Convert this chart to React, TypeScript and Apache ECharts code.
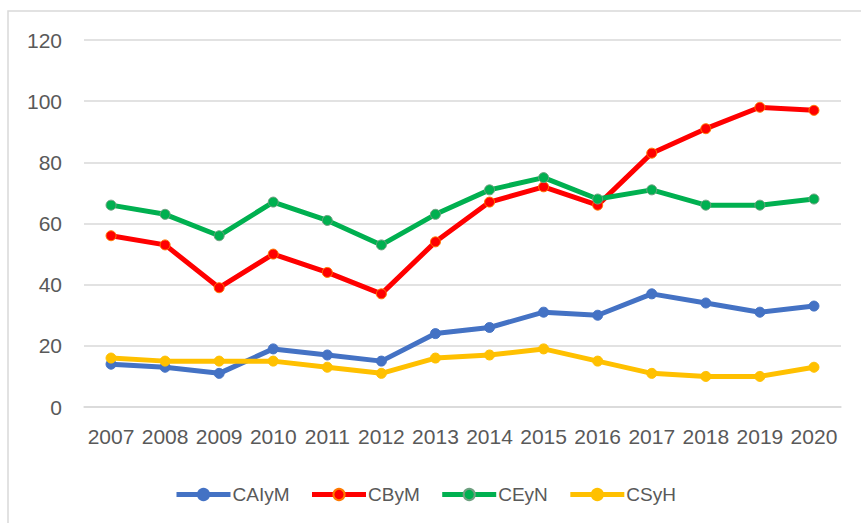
import React, { useEffect, useRef } from "react";
import * as echarts from "echarts";

const years = ["2007", "2008", "2009", "2010", "2011", "2012", "2013", "2014", "2015", "2016", "2017", "2018", "2019", "2020"];
const caiym = [14, 13, 11, 19, 17, 15, 24, 26, 31, 30, 37, 34, 31, 33];
const cbym = [56, 53, 39, 50, 44, 37, 54, 67, 72, 66, 83, 91, 98, 97];
const ceyn = [66, 63, 56, 67, 61, 53, 63, 71, 75, 68, 71, 66, 66, 68];
const csyh = [16, 15, 15, 15, 13, 11, 16, 17, 19, 15, 11, 10, 10, 13];

const seriesNames = ["CAIyM", "CByM", "CEyN", "CSyH"];
const seriesColors = ["#4472C4", "#FF0000", "#00B050", "#FFC000"];
const borderColors = ["#4472C4", "#FF7A00", "#6FA080", "#FFC000"];

export default function App() {
  const ref = useRef<HTMLDivElement>(null);
  useEffect(() => {
    if (!ref.current) return;
    const chart = echarts.init(ref.current, null, { renderer: "svg" });
    const data = [caiym, cbym, ceyn, csyh];
    const font = "'Liberation Sans', Arial, sans-serif";
    chart.setOption({
      animation: false,
      backgroundColor: "#ffffff",
      graphic: [
        {
          type: "rect",
          shape: { x: 8, y: 11, width: 900, height: 600 },
          style: { fill: "none", stroke: "#d9d9d9", lineWidth: 1.5 },
          silent: true,
          z: -10,
        },
      ],
      grid: { left: 84, right: 20, top: 40, bottom: 116, containLabel: false },
      legend: {
        left: 169,
        top: 480,
        itemWidth: 54,
        itemHeight: 14,
        itemGap: 20,
        lineStyle: { width: 5 },
        textStyle: { color: "#595959", fontSize: 19, fontFamily: font, padding: [0, 0, 0, -3] },
        data: seriesNames,
      },
      xAxis: {
        type: "category",
        data: years,
        boundaryGap: true,
        axisLine: { show: true, lineStyle: { color: "#d9d9d9", width: 1.5 } },
        axisTick: { show: false },
        axisLabel: { color: "#595959", fontSize: 21, fontFamily: font, margin: 19, interval: 0 },
      },
      yAxis: {
        type: "value",
        min: 0,
        max: 120,
        interval: 20,
        axisLine: { show: false },
        axisTick: { show: false },
        splitLine: { lineStyle: { color: "#d9d9d9", width: 1.5 } },
        axisLabel: { color: "#595959", fontSize: 21, fontFamily: font, margin: 22 },
      },
      series: seriesNames.map((name, i) => ({
        name,
        type: "line",
        data: data[i],
        symbol: "circle",
        symbolSize: 10,
        lineStyle: { color: seriesColors[i], width: 5 },
        itemStyle: { color: seriesColors[i], borderColor: borderColors[i], borderWidth: 1 },
        emphasis: { disabled: true },
        z: 2 + i,
      })),
    });
    return () => chart.dispose();
  }, []);
  return (
    <div
      ref={ref}
      style={{ position: "absolute", left: 0, top: 0, width: 861, height: 523 }}
    />
  );
}
